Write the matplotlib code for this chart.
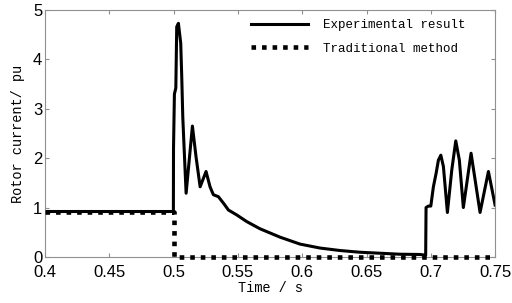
import matplotlib
matplotlib.use('Agg')
import matplotlib.pyplot as plt

# experimental rotor current (pu)
t_exp = [0.4, 0.4998, 0.4999, 0.5006, 0.5017, 0.5024, 0.5037, 0.5055, 0.5063, 0.5071,
         0.5081, 0.5097, 0.5146, 0.5174, 0.5206, 0.5252, 0.5283, 0.5309, 0.5348, 0.5387,
         0.5426, 0.5491, 0.5569, 0.5672, 0.5828, 0.5983, 0.6139, 0.6294, 0.6450, 0.6606,
         0.6761, 0.6917, 0.6960, 0.6963, 0.6981, 0.7000, 0.7020, 0.7041, 0.7059, 0.7078,
         0.7098, 0.7129, 0.7163, 0.7194, 0.7222, 0.7253, 0.7313, 0.7383, 0.7448, 0.75]
i_exp = [0.92, 0.92, 2.2, 3.3, 3.42, 4.66, 4.73, 4.33, 3.65, 2.84,
         2.23, 1.29, 2.65, 2.03, 1.42, 1.73, 1.42, 1.26, 1.22, 1.09,
         0.95, 0.85, 0.715, 0.57, 0.40, 0.26, 0.18, 0.13, 0.095, 0.075,
         0.055, 0.05, 0.035, 1.0, 1.03, 1.03, 1.42, 1.69, 1.96, 2.06,
         1.83, 0.9, 1.76, 2.35, 1.96, 1.0, 2.1, 0.9, 1.73, 1.05]

# traditional method
t_trad = [0.4, 0.5, 0.5, 0.75]
i_trad = [0.9, 0.9, 0.0, 0.0]

xticks = [0.4, 0.45, 0.5, 0.55, 0.6, 0.65, 0.7, 0.75]
xticklabels = ['0.4', '0.45', '0.5', '0.55', '0.6', '0.65', '0.7', '0.75']
yticks = [0, 1, 2, 3, 4, 5]

fig = plt.figure(figsize=(5.12, 3.03), dpi=100)
ax = fig.add_axes([0.088, 0.152, 0.879, 0.815])

ax.plot(t_exp, i_exp, color='black', lw=2.2, label='Experimental result')
ax.plot(t_trad, i_trad, color='black', lw=3.3, dashes=(1.0, 1.3), clip_on=False,
        zorder=3, label='Traditional method')

ax.set_xlim(0.4, 0.75)
ax.set_ylim(0, 5)
ax.set_xticks(xticks)
ax.set_xticklabels(xticklabels, family='Liberation Sans')
ax.set_yticks(yticks)
ax.set_yticklabels([str(v) for v in yticks], family='Liberation Sans')

ax.tick_params(direction='in', length=3, top=True, right=True, labelsize=12,
               color='#909090', pad=2)
ax.tick_params(axis='x', pad=5.5)
for s in ax.spines.values():
    s.set_color('#909090')

labfont = {'family': 'Liberation Mono', 'size': 9.8}
ax.set_xlabel('Time / s', fontdict=labfont, labelpad=1)
ax.set_ylabel('Rotor current/ pu', fontdict=labfont, labelpad=6)

leg = ax.legend(loc='upper right', frameon=False, prop={'family': 'Liberation Mono', 'size': 9},
                handlelength=4.6, handletextpad=1.2, borderaxespad=1.6, labelspacing=0.9,
                bbox_to_anchor=(0.99, 1.063))

fig.savefig('out.png', dpi=100)
